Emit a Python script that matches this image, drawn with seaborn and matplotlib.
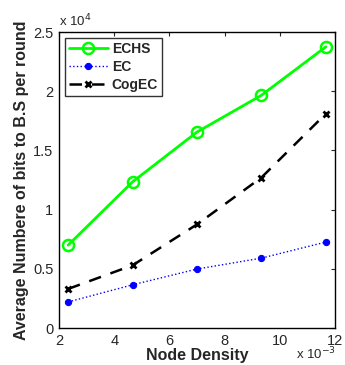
import matplotlib
matplotlib.use("Agg")
import matplotlib.pyplot as plt
import seaborn as sns

# node density (x 1e-3) and bits to B.S per round (x 1e4)
density = [2.33, 4.67, 7.0, 9.33, 11.67]
echs = [0.70, 1.235, 1.655, 1.965, 2.375]
ec = [0.22, 0.365, 0.498, 0.59, 0.726]
cogec = [0.33, 0.53, 0.875, 1.27, 1.81]

sns.set_style("white")
plt.rcParams['font.family'] = ['Liberation Sans', 'DejaVu Sans']

fig = plt.figure(figsize=(3.45, 3.65), dpi=100)
ax = fig.add_axes([59 / 345, 1 - 328 / 365, 276 / 345, 296 / 365])

sns.lineplot(x=density, y=echs, ax=ax, color='#00ff00', lw=2, marker='o', ms=8,
             mfc='none', mec='#00ff00', mew=1.8, label='ECHS')
sns.lineplot(x=density, y=ec, ax=ax, color='#0000ff', lw=1, ls=':', marker='o', ms=4.5,
             mec='#0000ff', label='EC')
sns.lineplot(x=density, y=cogec, ax=ax, color='black', lw=1.8, ls=(0, (5, 4)), marker='x', ms=5,
             mew=2, mec='black', label='CogEC')

ax.set_xlim(2, 12)
ax.set_ylim(0, 2.5)
ax.set_xticks([2, 4, 6, 8, 10, 12])
ax.set_yticks([0, 0.5, 1, 1.5, 2, 2.5])
ax.set_yticklabels(['0', '0.5', '1', '1.5', '2', '2.5'])
ax.tick_params(direction='in', length=3, labelsize=10.5, top=True, right=True, pad=4)
for s in ax.spines.values():
    s.set_color('black')
    s.set_linewidth(1)

ax.set_xlabel('Node Density', fontsize=11.5, fontweight='bold', labelpad=0)
ax.set_ylabel('Average Numbere of bits to B.S per round', fontsize=11.5, fontweight='bold', labelpad=3)
ax.text(0.0, 1.01, r'x 10$^{4}$', transform=ax.transAxes, fontsize=9.5, ha='left', va='bottom')
ax.text(0.86, -0.06, r'x 10$^{-3}$', transform=ax.transAxes, fontsize=9.5, ha='left', va='top')

leg = ax.legend(loc='upper left', fontsize=10, prop={'weight': 'bold', 'size': 10}, frameon=True,
                fancybox=False, edgecolor='black', handlelength=2.8, borderaxespad=0.4,
                labelspacing=0.3, borderpad=0.3, handletextpad=0.3)
leg.get_frame().set_linewidth(1)

fig.savefig('out.png', dpi=100)
